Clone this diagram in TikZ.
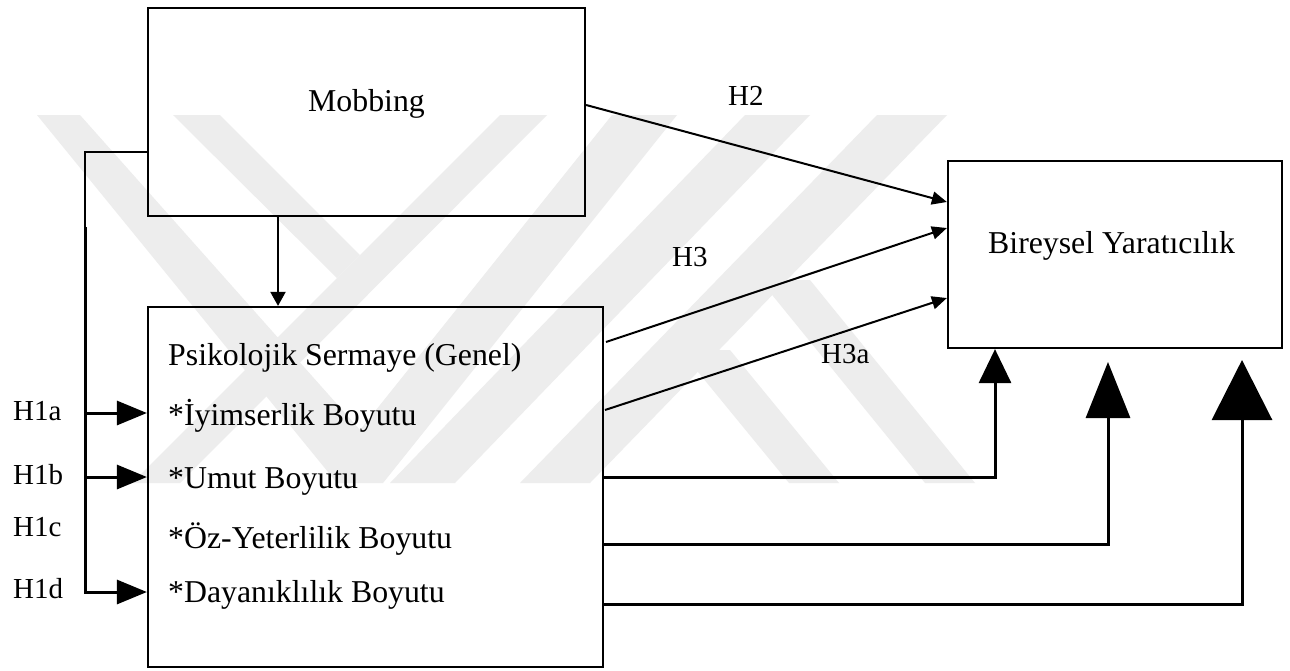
\documentclass[tikz,border=0pt]{standalone}
\usepackage{fontspec}
\setmainfont{Liberation Serif}
\usetikzlibrary{arrows.meta,fit}

\begin{document}
\begin{tikzpicture}[x=1pt,y=-1pt,
  box/.style={draw, line width=2.2pt, inner sep=0pt},
  txt/.style={font=\fontsize{31.8}{36}\selectfont, inner sep=0pt, anchor=base west},
  hyp/.style={font=\fontsize{29}{33}\selectfont, inner sep=0pt, anchor=base west},
  wm/.style={fill=black!7, draw=none},
  thinln/.style={line width=2pt},
  thickln/.style={line width=3pt},
  smalltip/.style={-{Triangle[length=15pt,width=13pt]}},
  sidetip/.style={-{Triangle[length=30pt,width=24pt]}}]

\useasboundingbox (0,0) rectangle (1290,670);
\fill[white] (0,0) rectangle (1290,670);

% faint background emblem
\fill[wm] (37,115) -- (337,483) -- (383,483) -- (677,115) -- (612,115) -- (360,430) -- (80,115) -- cycle;
\fill[wm] (500,115) -- (547,115) -- (180,483) -- (132,483) -- cycle;
\fill[wm] (173,115) -- (220,115) -- (360,255) -- (337,278) -- cycle;
\fill[wm] (745,115) -- (810,115) -- (455,483) -- (390,483) -- cycle;
\fill[wm] (877,115) -- (947,115) -- (590,483) -- (520,483) -- cycle;
\fill[wm] (680,350) -- (730,350) -- (839,483) -- (789,483) -- cycle;
\fill[wm] (760,280) -- (810,280) -- (975,483) -- (925,483) -- cycle;

% boxes
\node[box, fit={(148,8) (585,216)}] (mob) {};
\node[box, fit={(148,307) (603,667)}] (psy) {};
\node[box, fit={(948,161) (1282,348)}] (bir) {};

% box texts
\node[txt] (tmob) at (308,111) {Mobbing};
\node[txt] (tbir) at (988,253) {Bireysel Yaratıcılık};
\node[txt] (tpsy) at (168,365) {Psikolojik Sermaye (Genel)};
\node[txt] (tiy)  at (168,425) {*İyimserlik Boyutu};
\node[txt] (tum)  at (168,488) {*Umut Boyutu};
\node[txt] (toz)  at (168,548) {*Öz-Yeterlilik Boyutu};
\node[txt] (tday) at (168,602) {*Dayanıklılık Boyutu};

% hypothesis labels
\node[hyp] (h1a) at (13,420) {H1a};
\node[hyp] (h1b) at (13,484) {H1b};
\node[hyp] (h1c) at (13,536) {H1c};
\node[hyp] (h1d) at (13,598) {H1d};
\node[hyp] (h2)  at (728,105) {H2};
\node[hyp] (h3)  at (672,266) {H3};
\node[hyp] (h3a) at (821,363) {H3a};

% reference levels and columns
\coordinate (fx)  at (85,0);
\coordinate (fy)  at (0,152);
\coordinate (brk) at (85,227);
\coordinate (ya)  at (0,413);
\coordinate (yb)  at (0,477);
\coordinate (yd)  at (0,592);
\coordinate (dx)  at (278,0);
\coordinate (s2)  at (0,105);
\coordinate (e2)  at (0,202);
\coordinate (s3)  at (606,342);
\coordinate (e3)  at (0,228);
\coordinate (s3a) at (605,410);
\coordinate (e3a) at (0,298);
\coordinate (l2)  at (0,544);
\coordinate (l3)  at (0,604);
\coordinate (c1)  at (995,0);
\coordinate (t2)  at (1108,362);
\coordinate (t3)  at (1242,360);

% Mobbing -> dimensions (H1a-H1d)
\draw[thinln] (mob.west |- fy) -| (brk);
\draw[thickln] (brk) -- (fx |- yb);
\draw[thickln, sidetip] (brk) |- (psy.west |- yd);
\draw[thickln, sidetip] (fx |- ya) -- (psy.west |- ya);
\draw[thickln, sidetip] (fx |- yb) -- (psy.west |- yb);

% Mobbing -> Psikolojik Sermaye
\draw[thinln, -{Triangle[length=14pt,width=15pt]}] (mob.south -| dx) -- (psy.north -| dx);

% H2, H3, H3a
\draw[thinln, smalltip] (mob.east |- s2) -- (bir.west |- e2);
\draw[thinln, smalltip] (s3) -- (bir.west |- e3);
\draw[thinln, smalltip] (s3a) -- (bir.west |- e3a);

% dimensions -> Bireysel Yaratıcılık
\draw[thickln, -{Triangle[length=34pt,width=32pt]}] (psy.east |- yb) -| (bir.south -| c1);
\draw[thickln, -{Triangle[length=56pt,width=44pt]}] (psy.east |- l2) -| (t2);
\draw[thickln, -{Triangle[length=60pt,width=60pt]}] (psy.east |- l3) -| (t3);
\end{tikzpicture}
\end{document}
